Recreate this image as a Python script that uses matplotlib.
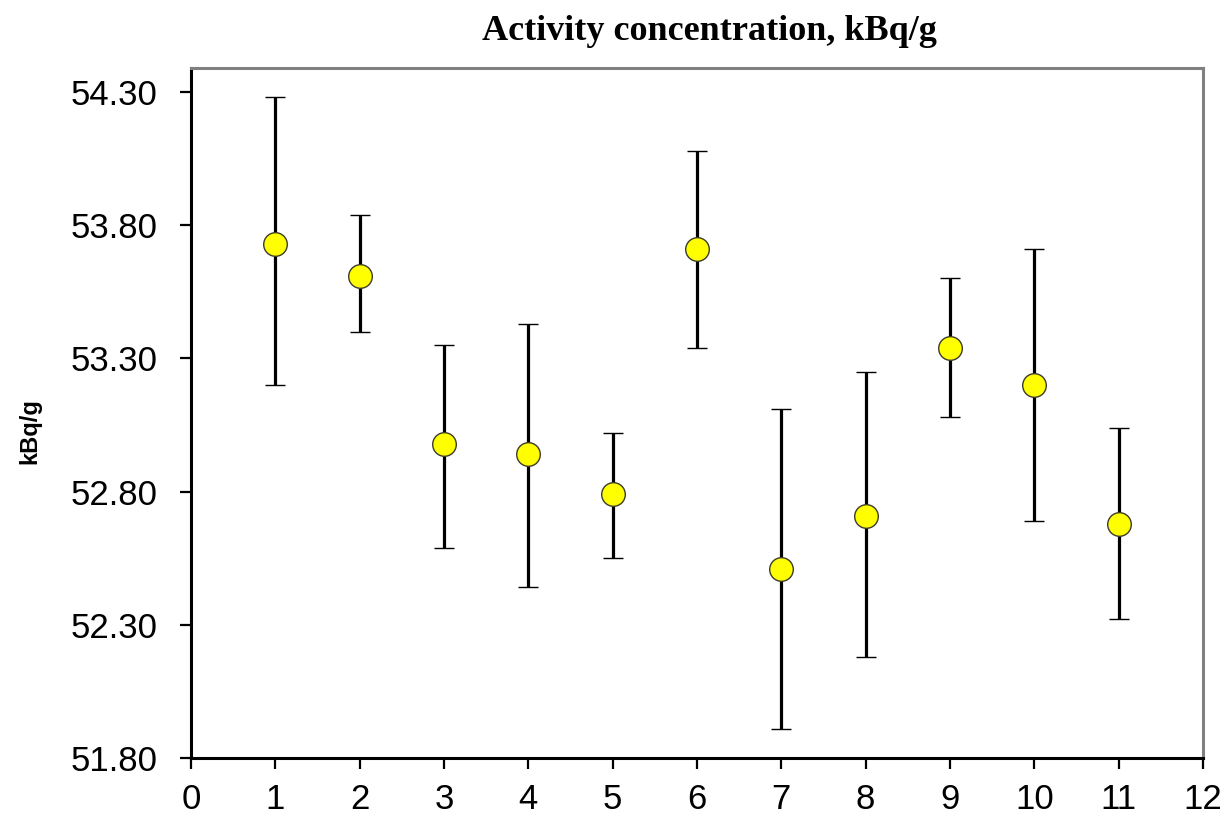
import numpy as np
import matplotlib
matplotlib.use('Agg')
import matplotlib.pyplot as plt

# sample number and activity concentration (kBq/g) with error bar limits
sample = [1, 2, 3, 4, 5, 6, 7, 8, 9, 10, 11]
activity = [53.73, 53.61, 52.98, 52.94, 52.79, 53.71, 52.51, 52.71, 53.34, 53.20, 52.68]
low = [53.20, 53.40, 52.59, 52.44, 52.55, 53.34, 51.91, 52.18, 53.08, 52.69, 52.32]
high = [54.28, 53.84, 53.35, 53.43, 53.02, 54.08, 53.11, 53.25, 53.60, 53.71, 53.04]

x_ticks = list(range(0, 13))
y_ticks = [51.80, 52.30, 52.80, 53.30, 53.80, 54.30]

act = np.array(activity)
yerr = [act - np.array(low), np.array(high) - act]

plt.rcParams['font.family'] = ['Liberation Sans', 'DejaVu Sans']

fig = plt.figure(figsize=(12.28, 8.16), dpi=100)
ax = fig.add_axes([191/1228, 1-758/816, (1203-191)/1228, (758-68)/816])

ax.errorbar(sample, activity, yerr=yerr, fmt='o', color='black',
            ecolor='black', elinewidth=2.3, capsize=7.5, capthick=3.0,
            markersize=17, markerfacecolor='#ffff00', markeredgecolor='#3c3c28',
            markeredgewidth=1.0, zorder=3)

ax.set_xlim(0, 12)
ax.set_ylim(51.80, 54.39)
ax.set_xticks(x_ticks)
ax.set_yticks(y_ticks)
ax.set_yticklabels(['%.2f' % v for v in y_ticks])
ax.tick_params(axis='both', direction='out', length=8, width=1.6,
               labelsize=25, colors='black')
ax.tick_params(axis='y', pad=16)
ax.tick_params(axis='x', pad=10)

for side in ['left', 'bottom']:
    ax.spines[side].set_color('black')
    ax.spines[side].set_linewidth(2.2)
for side in ['top', 'right']:
    ax.spines[side].set_color('#808080')
    ax.spines[side].set_linewidth(2.2)

fig.text(709/1228, 1-31/816, 'Activity concentration, kBq/g',
         family=['Liberation Serif', 'DejaVu Serif'], fontweight='bold',
         fontsize=26, ha='center', va='center')
fig.text(30/1228, 1-431/816, 'kBq/g', fontweight='bold', fontsize=17,
         rotation=90, ha='center', va='center')

fig.savefig('out.png', dpi=100)
